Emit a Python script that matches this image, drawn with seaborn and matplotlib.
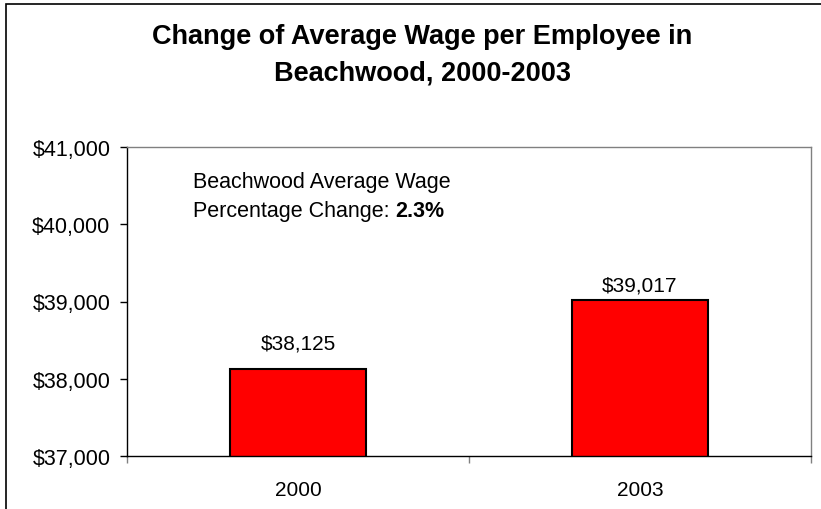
import matplotlib
matplotlib.use("Agg")
import matplotlib.pyplot as plt
import matplotlib.patches as mpatches
import seaborn as sns
import pandas as pd

# Data
years = ["2000", "2003"]
wages = [38125, 39017]
pct_change = 2.3
yticks = [37000, 38000, 39000, 40000, 41000]

df = pd.DataFrame({"year": years, "wage": wages})

sns.set_theme(style="white")
plt.rcParams["font.family"] = ["Liberation Sans", "DejaVu Sans"]
plt.rcParams["text.color"] = "black"

fig = plt.figure(figsize=(8.21, 5.10), dpi=100)
ax = fig.add_axes([127 / 821, 53 / 510, 684 / 821, 309 / 510])

sns.barplot(data=df, x="year", y="wage", color="#ff0000", saturation=1,
            edgecolor="black", linewidth=1.5, width=0.4, ax=ax)

ax.set_xlim(-0.5, 1.5)
ax.set_ylim(yticks[0], yticks[-1])
ax.set_yticks(yticks)
ax.set_yticklabels([f"${v:,}" for v in yticks], fontsize=15.5)
ax.set_xticks(range(len(years)))
ax.set_xticklabels(years, fontsize=15)
ax.set_xticks([-0.5, 0.5, 1.5], minor=True)
ax.tick_params(axis="x", which="major", length=0, pad=17, labelcolor="black")
ax.tick_params(axis="x", which="minor", length=5, width=1, color="#808080",
               direction="out", bottom=True)
ax.tick_params(axis="y", length=5, width=1, color="black", direction="out",
               left=True, pad=7, labelcolor="black")
ax.set_xlabel("")
ax.set_ylabel("")

for side in ["left", "bottom"]:
    ax.spines[side].set_color("black")
    ax.spines[side].set_linewidth(1)
for side in ["top", "right"]:
    ax.spines[side].set_color("#808080")
    ax.spines[side].set_linewidth(1)

# value labels
pads = [12, 4]
for bar, val, p in zip(ax.patches, wages, pads):
    ax.annotate(f"${val:,}", xy=(bar.get_x() + bar.get_width() / 2, val),
                xytext=(0, p), textcoords="offset points",
                ha="center", va="bottom", fontsize=15, color="black")

# annotation text
ax.text(0.0965, 0.887, "Beachwood Average Wage", transform=ax.transAxes,
        fontsize=15.5, ha="left", va="center", color="black")
t = ax.text(0.0965, 0.793, "Percentage Change: ", transform=ax.transAxes,
            fontsize=15.5, ha="left", va="center", color="black")
ax.annotate(f"{pct_change}%", xy=(1, 0), xycoords=t, ha="left", va="bottom",
            fontsize=15.5, fontweight="bold", color="black")

fig.text(422 / 821, 1 - 55 / 510,
         "Change of Average Wage per Employee in\nBeachwood, 2000-2003",
         ha="center", va="center", fontsize=19.5, fontweight="bold",
         linespacing=1.55, color="black")

# outer chart border (cropped on right and bottom)
fig.patches.append(mpatches.Rectangle((6 / 821, -0.5), 2, 0.5 + 505 / 510,
                                      transform=fig.transFigure, fill=False,
                                      edgecolor="black", linewidth=1.2))

fig.savefig("out.png", dpi=100)
